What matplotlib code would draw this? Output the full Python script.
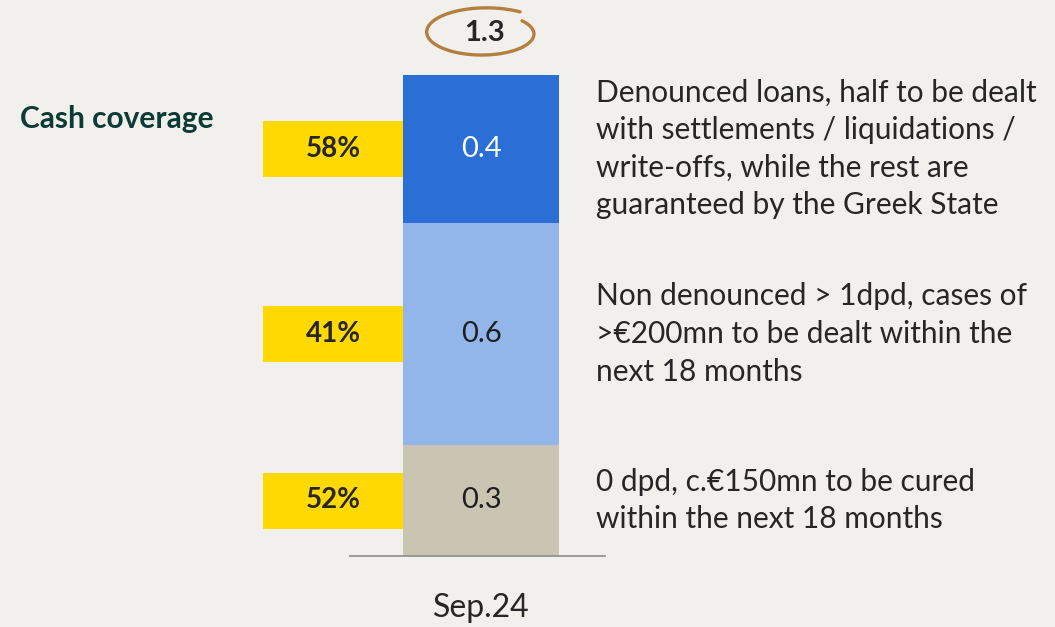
import numpy as np
import matplotlib.pyplot as plt
from matplotlib.patches import Rectangle
from matplotlib.transforms import IdentityTransform

plt.rcParams['font.family'] = ['Lato', 'DejaVu Sans']

period = 'Sep.24'
segments = [0.3, 0.6, 0.4]            # bottom to top, bn
seg_labels = ['0.3', '0.6', '0.4']
coverage = ['52%', '41%', '58%']
notes = [
    '0 dpd, c.€150mn to be cured\nwithin the next 18 months',
    'Non denounced > 1dpd, cases of\n>€200mn to be dealt within the\nnext 18 months',
    'Denounced loans, half to be dealt\nwith settlements / liquidations /\nwrite-offs, while the rest are\nguaranteed by the Greek State',
]
total_label = '1.3'

colors = ['#CAC4B3', '#93B6EA', '#2A6ED6']
text_colors = ['#1F1F1F', '#1F1F1F', '#FFFFFF']
bg = '#F1F0EC'

W, H = 1055, 627
fig = plt.figure(figsize=(W / 100, H / 100), dpi=100, facecolor=bg)
ax = fig.add_axes([350 / W, (H - 556) / H, 255 / W, 556 / H])
ax.set_facecolor(bg)

px_per_unit = 370
ax.set_xlim(-131 / 156, 124 / 156)
ax.set_ylim(0, 556 / px_per_unit)
for s in ax.spines.values():
    s.set_visible(False)
ax.spines['bottom'].set_visible(True)
ax.spines['bottom'].set_color('#8C8C8C')
ax.spines['bottom'].set_linewidth(1.2)
ax.set_yticks([])
ax.set_xticks([])

bottoms = np.concatenate([[0], np.cumsum(segments)[:-1]])
ax.bar([0] * len(segments), segments, bottom=bottoms, width=1.0,
       color=colors, zorder=2)

box_h = 56 / px_per_unit
for val, b, lab, tc, cov, note in zip(segments, bottoms, seg_labels,
                                      text_colors, coverage, notes):
    mid = b + val / 2
    ax.text(0, mid, lab, ha='center', va='center', fontsize=21, color=tc)
    # yellow coverage box to the left of the bar
    ax.add_patch(Rectangle((-218 / 156, mid - box_h / 2), 140 / 156, box_h,
                           facecolor='#FFD900', edgecolor='none',
                           clip_on=False, zorder=2))
    ax.text(-148 / 156, mid, cov, ha='center', va='center', fontsize=20,
            fontweight='bold', color='#262626', clip_on=False)
    ax.text(115 / 156, mid, note, ha='left', va='center', fontsize=21.5,
            color='#262626', linespacing=1.42, clip_on=False)

total = sum(segments)
ty = total + 42 / px_per_unit
ax.text(0.02, ty, total_label, ha='center', va='center', fontsize=21,
        fontweight='bold', color='#262626', clip_on=False)

# hand-drawn loop around the total
fig.canvas.draw()
cx, cy = ax.transData.transform((0.02, ty))
t = np.linspace(np.radians(55), np.radians(398), 200)
sc = np.linspace(1.12, 0.86, t.size)
ex = cx + 56 * sc * np.cos(t)
ey = cy + 23 * sc * np.sin(t)
fig.add_artist(plt.Line2D(ex, ey, transform=IdentityTransform(),
                          color='#B5803F', lw=2.4, solid_capstyle='round'))

ax.text(0, -52 / px_per_unit, period, ha='center', va='center', fontsize=23,
        color='#262626', clip_on=False)

fig.text(20 / W, 1 - 119 / H, 'Cash coverage', ha='left', va='center',
         fontsize=21.5, fontweight='bold', color='#0C3B36')

fig.savefig('out.png', dpi=100, facecolor=bg)
